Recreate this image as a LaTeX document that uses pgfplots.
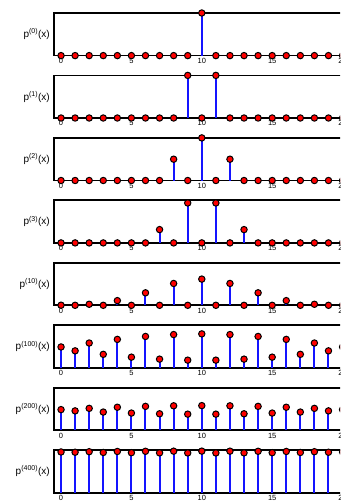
\documentclass[border=0pt]{standalone}
\usepackage{fontspec}
\setmainfont{Liberation Sans}
\usepackage{pgfplots}
\pgfplotsset{compat=1.18}
\pgfplotsset{
  panel/.style={
    at={(54pt,#1)}, anchor=north west,
    scale only axis, width=295.6pt, height=42.6pt,
    xmin=-0.5, xmax=20.5, ymin=0, clip=false,
    xtick={0,5,10,15,20}, ytick=\empty,
    xtick style={draw=none},
    axis line style={line width=1.8pt},
    /pgf/number format/assume math mode=true,
    xticklabel style={font=\fontsize{7.5}{8}\selectfont, inner sep=1pt, yshift=-1.5pt},
  },
  stem/.style={ycomb, draw={rgb,255:red,20;green,20;blue,255}, line width=2pt,
    mark=*, mark size=3.2pt,
    mark options={fill={rgb,255:red,255;green,0;blue,0}, draw=black, line width=1pt}},
}
\newcommand{\plabel}[1]{\node[anchor=east, font=\fontsize{10}{12}\selectfont, inner sep=0pt] at ([xshift=-4pt]axis description cs:0,0.5) {p\textsuperscript{(#1)}(x)};}
\begin{document}
\begin{tikzpicture}
\path[use as bounding box] (0pt,0pt) rectangle (340pt,-503pt);
\clip (0pt,0pt) rectangle (340pt,-503pt);

% p^(0)
\begin{axis}[panel={-13pt}, ymax=1]
\addplot[stem] coordinates {(0,0)(1,0)(2,0)(3,0)(4,0)(5,0)(6,0)(7,0)(8,0)(9,0)(10,1)(11,0)(12,0)(13,0)(14,0)(15,0)(16,0)(17,0)(18,0)(19,0)(20,0)};
\plabel{0}
\end{axis}

% p^(1)
\begin{axis}[panel={-75.4pt}, ymax=0.5]
\addplot[stem] coordinates {(0,0)(1,0)(2,0)(3,0)(4,0)(5,0)(6,0)(7,0)(8,0)(9,0.5)(10,0)(11,0.5)(12,0)(13,0)(14,0)(15,0)(16,0)(17,0)(18,0)(19,0)(20,0)};
\plabel{1}
\end{axis}

% p^(2)
\begin{axis}[panel={-137.9pt}, ymax=0.5]
\addplot[stem] coordinates {(0,0)(1,0)(2,0)(3,0)(4,0)(5,0)(6,0)(7,0)(8,0.25)(9,0)(10,0.5)(11,0)(12,0.25)(13,0)(14,0)(15,0)(16,0)(17,0)(18,0)(19,0)(20,0)};
\plabel{2}
\end{axis}

% p^(3)
\begin{axis}[panel={-200.3pt}, ymax=0.4]
\addplot[stem] coordinates {(0,0)(1,0)(2,0)(3,0)(4,0)(5,0)(6,0)(7,0.125)(8,0)(9,0.375)(10,0)(11,0.375)(12,0)(13,0.125)(14,0)(15,0)(16,0)(17,0)(18,0)(19,0)(20,0)};
\plabel{3}
\end{axis}

% p^(10)
\begin{axis}[panel={-262.7pt}, ymax=0.4]
\addplot[stem] coordinates {(0,0.000977)(1,0)(2,0.009766)(3,0)(4,0.043945)(5,0)(6,0.117188)(7,0)(8,0.205078)(9,0)(10,0.246094)(11,0)(12,0.205078)(13,0)(14,0.117188)(15,0)(16,0.043945)(17,0)(18,0.009766)(19,0)(20,0.000977)};
\plabel{10}
\end{axis}

% p^(100)
\begin{axis}[panel={-325.2pt}, ymax=0.1]
\addplot[stem] coordinates {(0,0.04893)(1,0.03982)(2,0.05819)(3,0.03163)(4,0.06671)(5,0.02499)(6,0.07358)(7,0.02034)(8,0.07805)(9,0.01796)(10,0.07961)(11,0.01796)(12,0.07805)(13,0.02034)(14,0.07358)(15,0.02499)(16,0.06671)(17,0.03163)(18,0.05819)(19,0.03982)(20,0.04893)};
\plabel{100}
\end{axis}

% p^(200)
\begin{axis}[panel={-387.6pt}, ymax=0.1]
\addplot[stem] coordinates {(0,0.04836)(1,0.04537)(2,0.05129)(3,0.04258)(4,0.05390)(5,0.04023)(6,0.05595)(7,0.03855)(8,0.05725)(9,0.03767)(10,0.05770)(11,0.03767)(12,0.05725)(13,0.03855)(14,0.05595)(15,0.04023)(16,0.05390)(17,0.04258)(18,0.05129)(19,0.04537)(20,0.04836)};
\plabel{200}
\end{axis}

% p^(400)
\begin{axis}[panel={-450pt}, ymax=0.05]
\addplot[stem] coordinates {(0,0.047699)(1,0.047382)(2,0.048008)(3,0.047086)(4,0.048283)(5,0.046838)(6,0.048499)(7,0.046659)(8,0.048638)(9,0.046565)(10,0.048685)(11,0.046565)(12,0.048638)(13,0.046659)(14,0.048499)(15,0.046838)(16,0.048283)(17,0.047086)(18,0.048008)(19,0.047382)(20,0.047699)};
\plabel{400}
\end{axis}
\end{tikzpicture}
\end{document}
